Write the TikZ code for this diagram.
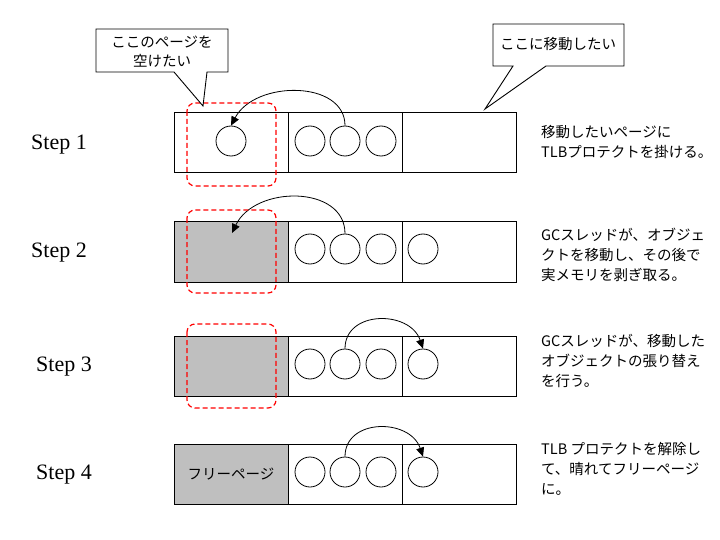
\documentclass[tikz,border=0pt]{standalone}
\usepackage{fontspec}
\setmainfont{Liberation Serif}
\newfontfamily\jp{Noto Sans CJK JP}
\usetikzlibrary{arrows.meta}
\tikzset{
  page/.style={draw=black, line width=1pt},
  freepage/.style={draw=black, line width=1pt, fill=black!25},
  obj/.style={draw=black, line width=0.8pt, circle, minimum size=30pt, inner sep=0pt},
  move/.style={draw=black, line width=0.8pt, -{Triangle[length=9pt,width=8pt]}},
  target/.style={draw=red, line width=1.2pt, dash pattern=on 5pt off 3pt, rounded corners=8pt},
  callout/.style={draw=black, line width=0.9pt, fill=white},
  steplabel/.style={font=\fontsize{22}{22}\selectfont, anchor=west, inner sep=0pt},
  note/.style={font=\jp\fontsize{14.5}{20}\selectfont, align=left, anchor=north west, inner sep=0pt},
  jtext/.style={font=\jp\fontsize{14.5}{19}\selectfont, align=center, inner sep=0pt}
}
\begin{document}
\begin{tikzpicture}[x=1pt,y=-1pt]
\useasboundingbox (0,0) rectangle (720,540);
\fill[white] (0,0) rectangle (720,540);

% Step labels
\node[steplabel] (s1) at (31,145) {Step 1};
\node[steplabel] (s2) at (31,253) {Step 2};
\node[steplabel] (s3) at (36,367) {Step 3};
\node[steplabel] (s4) at (36,475) {Step 4};

% Row 1
\draw[page] (174,113) rectangle (288,173);
\draw[page] (288,113) rectangle (402,173);
\draw[page] (402,113) rectangle (516,173);
\node[obj] (c10) at (231,141) {};
\node[obj] (c11) at (310,141) {};
\node[obj] (c12) at (345,141) {};
\node[obj] (c13) at (381,141) {};
\draw[move] (c12.north) .. controls (345,80) and (255,80) .. (c10.north);
\draw[target] (187,103) rectangle (276,186);

% Row 2
\draw[freepage] (174,222) rectangle (288,282);
\draw[page] (288,222) rectangle (402,282);
\draw[page] (402,222) rectangle (516,282);
\node[obj] (c21) at (310,249) {};
\node[obj] (c22) at (345,249) {};
\node[obj] (c23) at (381,249) {};
\node[obj] (c24) at (423,249) {};
\coordinate (t2) at (232,233);
\draw[move] (c22.north) .. controls (345,185) and (255,185) .. (t2);
\draw[target] (187,210) rectangle (276,293);

% Row 3
\draw[freepage] (174,336) rectangle (288,396);
\draw[page] (288,336) rectangle (402,396);
\draw[page] (402,336) rectangle (516,396);
\node[obj] (c31) at (310,364) {};
\node[obj] (c32) at (345,364) {};
\node[obj] (c33) at (381,364) {};
\node[obj] (c34) at (423,364) {};
\draw[move] (c32.north) .. controls (345,310) and (410,310) .. (c34.north);
\draw[target] (187,324) rectangle (276,408);

% Row 4
\draw[freepage] (174,444) rectangle (288,504);
\node[jtext] (fp) at (231,474) {フリーページ};
\draw[page] (288,444) rectangle (402,504);
\draw[page] (402,444) rectangle (516,504);
\node[obj] (c41) at (310,472) {};
\node[obj] (c42) at (345,472) {};
\node[obj] (c43) at (381,472) {};
\node[obj] (c44) at (423,472) {};
\draw[move] (c42.north) .. controls (345,418) and (410,418) .. (c44.north);

% Callouts
\draw[callout] (96,29) -- (228,29) -- (228,72) -- (207,72) -- (203,106) -- (174,72) -- (96,72) -- cycle;
\node[jtext] (cl1) at (162,52) {ここのページを\\空けたい};
\draw[callout] (493,24) -- (624,24) -- (624,66) -- (546,66) -- (485,109) -- (513,66) -- (493,66) -- cycle;
\node[jtext] (cl2) at (558,44) {ここに移動したい};

% Notes
\node[note] (n1) at (541,125) {移動したいページに\\TLBプロテクトを掛ける。};
\node[note] (n2) at (541,228) {GCスレッドが、オブジェ\\クトを移動し、その後で\\実メモリを剥ぎ取る。};
\node[note] (n3) at (541,334) {GCスレッドが、移動した\\オブジェクトの張り替え\\を行う。};
\node[note] (n4) at (541,442) {TLB プロテクトを解除し\\て、晴れてフリーページ\\に。};
\end{tikzpicture}
\end{document}
